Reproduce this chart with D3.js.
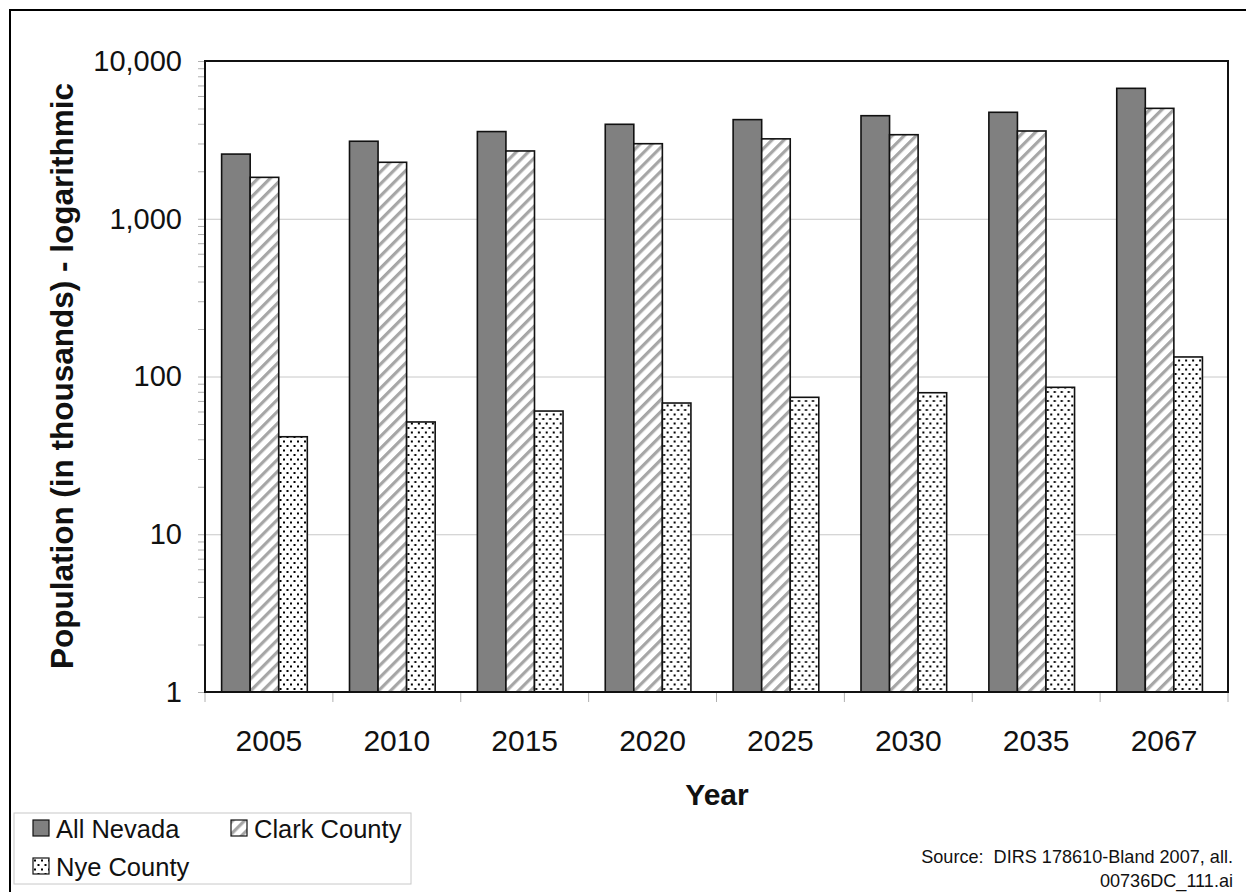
<!DOCTYPE html>
<html>
<head>
<meta charset="utf-8">
<script src="https://cdn.jsdelivr.net/npm/d3@7"></script>
<style>
	body { margin: 0; background: #fff; }
	svg { display: block; font-family: Arial, 'Liberation Sans', sans-serif; }
	.grid line { stroke: #c8c8c8; stroke-width: 1; }
	.grid path { display: none; }
</style>
</head>
<body>
<svg id="chart" width="1246" height="892"></svg>
<script>
'use strict';

// population in thousands
var years = ['2005', '2010', '2015', '2020', '2025', '2030', '2035', '2067'];
var series = ['All Nevada', 'Clark County', 'Nye County'];
var allNevada = [2570, 3100, 3570, 3970, 4250, 4500, 4730, 6710];
var clarkCounty = [1830, 2280, 2690, 2990, 3210, 3410, 3600, 5010];
var nyeCounty = [41.5, 51.5, 60.4, 67.9, 73.8, 78.9, 85.4, 133];
var yTicks = [1, 10, 100, 1000, 10000];

var values = [allNevada, clarkCounty, nyeCounty];
var fills = ['#808080', 'url(#stripes)', 'url(#dots)'];

var margin = { left: 205, top: 61, right: 18, bottom: 200 };
var width = 1246 - margin.left - margin.right;
var height = 892 - margin.top - margin.bottom;

var svg = d3.select('#chart');

// patterns
var defs = svg.append('defs');
var stripes = defs.append('pattern')
	.attr('id', 'stripes')
	.attr('patternUnits', 'userSpaceOnUse')
	.attr('width', 8.5)
	.attr('height', 8.5)
	.attr('patternTransform', 'rotate(45)');
stripes.append('rect')
	.attr('width', 8.5).attr('height', 8.5).attr('fill', '#fff');
stripes.append('rect')
	.attr('x', 0).attr('width', 3.2).attr('height', 8.5).attr('fill', '#a6a6a6');

var dots = defs.append('pattern')
	.attr('id', 'dots')
	.attr('patternUnits', 'userSpaceOnUse')
	.attr('width', 7)
	.attr('height', 9);
dots.append('rect')
	.attr('width', 7).attr('height', 9).attr('fill', '#fff');
dots.append('rect')
	.attr('x', 1).attr('y', 1.5).attr('width', 2).attr('height', 2).attr('fill', '#000');
dots.append('rect')
	.attr('x', 4.5).attr('y', 6).attr('width', 2).attr('height', 2).attr('fill', '#000');

// outer frame
svg.append('rect')
	.attr('x', 10).attr('y', 10)
	.attr('width', 1260).attr('height', 900)
	.attr('fill', 'none')
	.attr('stroke', '#000')
	.attr('stroke-width', 2);

var chart = svg.append('g')
	.attr('class', 'chart')
	.attr('transform', 'translate(' + margin.left + ' ' + margin.top + ')');

var yScale = d3.scaleLog()
	.domain([1, 10000])
	.range([height, 0]);

var xScale = d3.scaleBand()
	.domain(years)
	.range([0, width]);

var bw = xScale.bandwidth();
var seriesScale = d3.scaleBand()
	.domain(series)
	.range([bw * 0.13, bw * 0.80]);

// gridlines
var yGrid = d3.axisLeft()
	.scale(yScale)
	.tickValues([10, 100, 1000])
	.tickSize(-width)
	.tickFormat('');
chart.append('g')
	.attr('class', 'grid')
	.call(yGrid);

// y axis with minor log ticks
var minor = [];
[1, 10, 100, 1000].forEach(function(d) {
	for (var k = 1; k < 10; k++) minor.push(d * k);
});
minor.push(10000);
var yAxis = d3.axisLeft()
	.scale(yScale)
	.tickValues(minor)
	.tickSize(7)
	.tickPadding(16)
	.tickFormat(function(v) {
		return yTicks.indexOf(v) >= 0 ? d3.format(',')(v) : '';
	});
var yg = chart.append('g')
	.attr('class', 'y axis')
	.call(yAxis);
yg.select('.domain').remove();
yg.selectAll('line').attr('stroke', '#b0b0b0');
yg.selectAll('text')
	.attr('font-size', 29)
	.attr('fill', '#111');

// x axis
var xAxis = d3.axisBottom()
	.scale(xScale)
	.tickSize(0)
	.tickPadding(38);
var xg = chart.append('g')
	.attr('class', 'x axis')
	.attr('transform', 'translate(0,' + height + ')')
	.call(xAxis);
xg.select('.domain').remove();
xg.selectAll('text')
	.attr('font-size', 30)
	.attr('fill', '#111');
xg.selectAll('.sep')
	.data(years.concat(['end']))
	.enter()
	.append('line')
		.attr('class', 'sep')
		.attr('x1', function(d) { return d === 'end' ? width : xScale(d); })
		.attr('x2', function(d) { return d === 'end' ? width : xScale(d); })
		.attr('y1', 0)
		.attr('y2', 10)
		.attr('stroke', '#b0b0b0');

// bars
var groups = chart.append('g')
	.attr('class', 'bars')
	.selectAll('g')
	.data(years)
	.enter()
	.append('g')
		.attr('transform', function(d) { return 'translate(' + xScale(d) + ',0)'; });
groups.selectAll('rect')
	.data(function(d, i) {
		return series.map(function(s, j) { return { s: s, v: values[j][i], j: j }; });
	})
	.enter()
	.append('rect')
		.attr('x', function(d) { return seriesScale(d.s); })
		.attr('width', seriesScale.bandwidth())
		.attr('y', function(d) { return yScale(d.v); })
		.attr('height', function(d) { return height - yScale(d.v); })
		.attr('fill', function(d) { return fills[d.j]; })
		.attr('stroke', '#111')
		.attr('stroke-width', 1.6);

// plot frame
chart.append('rect')
	.attr('width', width)
	.attr('height', height)
	.attr('fill', 'none')
	.attr('stroke', '#111')
	.attr('stroke-width', 2);

// axis titles
svg.append('text')
	.attr('transform', 'translate(73,376) rotate(-90)')
	.attr('text-anchor', 'middle')
	.attr('font-size', 31.5)
	.attr('font-weight', 'bold')
	.attr('fill', '#111')
	.text('Population (in thousands) - logarithmic');
svg.append('text')
	.attr('x', 717)
	.attr('y', 805)
	.attr('text-anchor', 'middle')
	.attr('font-size', 30)
	.attr('font-weight', 'bold')
	.attr('fill', '#111')
	.text('Year');

// legend
var legend = svg.append('g').attr('class', 'legend');
legend.append('rect')
	.attr('x', 14).attr('y', 813)
	.attr('width', 397).attr('height', 71)
	.attr('fill', '#fff')
	.attr('stroke', '#c8c8c8');
var legendPos = [[33, 820], [231, 820], [33, 858]];
var items = legend.selectAll('.item')
	.data(series)
	.enter()
	.append('g')
		.attr('class', 'item')
		.attr('transform', function(d, i) { return 'translate(' + legendPos[i][0] + ',' + legendPos[i][1] + ')'; });
items.append('rect')
	.attr('width', 16).attr('height', 16)
	.attr('fill', function(d, i) { return fills[i]; })
	.attr('stroke', '#111')
	.attr('stroke-width', 1.2);
items.append('text')
	.attr('x', 23)
	.attr('y', 18)
	.attr('font-size', 25.5)
	.attr('fill', '#111')
	.text(function(d) { return d; });

// source note
var note = svg.append('text')
	.attr('text-anchor', 'end')
	.attr('font-size', 18.1)
	.attr('fill', '#111');
note.append('tspan').attr('x', 1233).attr('y', 863).text('Source:\u00a0 DIRS 178610-Bland 2007, all.');
note.append('tspan').attr('x', 1233).attr('y', 887).text('00736DC_111.ai');
</script>
</body>
</html>
